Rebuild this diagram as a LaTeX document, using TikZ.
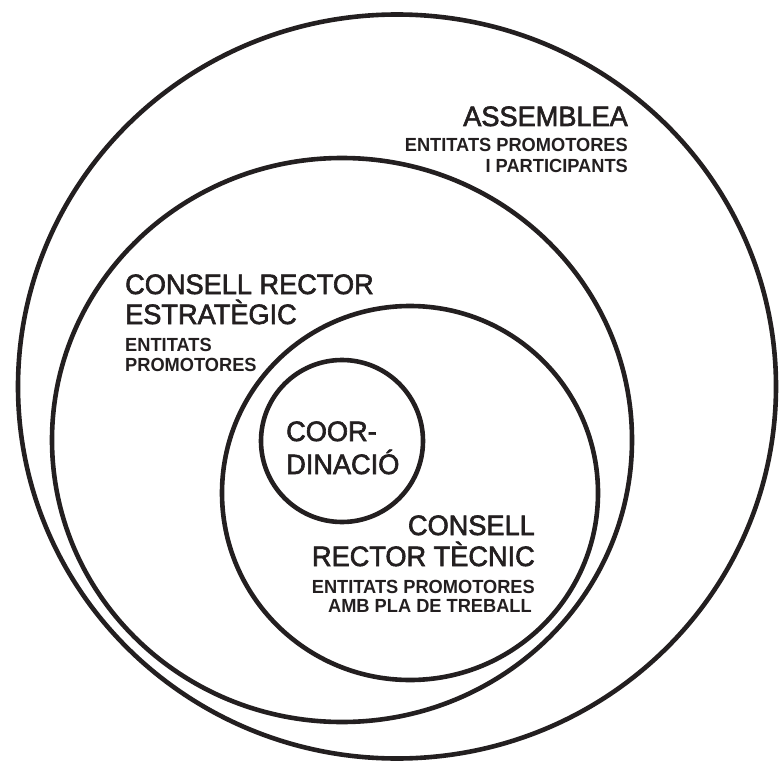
\documentclass[tikz,border=0pt]{standalone}
\usepackage{fontspec}
\setmainfont{Liberation Sans}
\newfontfamily\titlefont[FakeBold=2.2,FakeStretch=0.97]{Liberation Sans}
\newfontfamily\subfont[FakeStretch=0.96]{Liberation Sans Bold}
\definecolor{ink}{HTML}{231F20}
\begin{document}
\begin{tikzpicture}[x=1pt,y=-1pt,
  ring/.style={draw=ink,line width=4.6pt},
  ttl/.style={inner sep=0pt,text=ink,font=\titlefont\fontsize{28}{30}\selectfont},
  sub/.style={inner sep=0pt,text=ink,font=\subfont\fontsize{19}{20}\selectfont}]
\useasboundingbox (0,0) rectangle (779,765);
% rings
\draw[ring] (397,386.5) ellipse [x radius=379, y radius=372];
\draw[ring] (342,440) ellipse [x radius=290, y radius=282];
\draw[ring] (410,493) ellipse [x radius=188, y radius=187];
\draw[ring] (342,441) circle [radius=81];
% assemblea
\node[ttl,anchor=base east] (a1) at (628,126) {ASSEMBLEA};
\node[sub,anchor=base east] (a2) at (628,152) {ENTITATS PROMOTORES};
\node[sub,anchor=base east] (a3) at (628,172) {I PARTICIPANTS};
% consell rector estrategic
\node[ttl,anchor=base west] (e1) at (125,294) {CONSELL RECTOR};
\node[ttl,anchor=base west] (e2) at (125,324) {ESTRATÈGIC};
\node[sub,anchor=base west] (e3) at (125,351) {ENTITATS};
\node[sub,anchor=base west] (e4) at (125,371) {PROMOTORES};
% coordinacio
\node[ttl,anchor=base west] (c1) at (286,441) {COOR-};
\node[ttl,anchor=base west] (c2) at (286,474) {DINACIÓ};
% consell rector tecnic
\node[ttl,anchor=base east] (t1) at (535,535) {CONSELL};
\node[ttl,anchor=base east] (t2) at (535,566) {RECTOR TÈCNIC};
\node[sub,anchor=base east] (t3) at (535,593) {ENTITATS PROMOTORES};
\node[sub,anchor=base east] (t4) at (532,612) {AMB PLA DE TREBALL};
\end{tikzpicture}
\end{document}
